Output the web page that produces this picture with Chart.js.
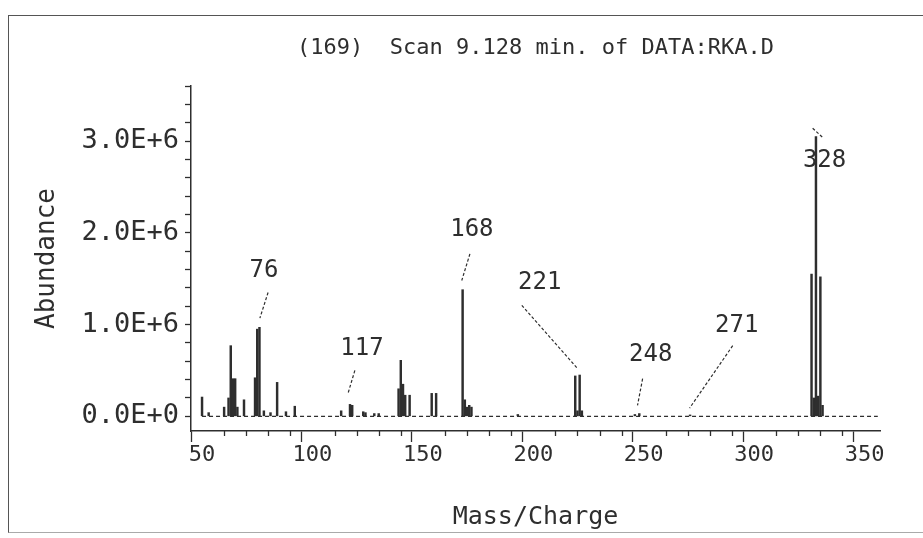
<!DOCTYPE html>
<html><head><meta charset="utf-8">
<script src="https://cdn.jsdelivr.net/npm/chart.js@4.4.0/dist/chart.umd.min.js"></script>
<style>
html,body{margin:0;padding:0;background:#fff;}
#wrap{position:relative;width:923px;height:538px;overflow:hidden;background:#fff;}
#frame{position:absolute;left:8px;top:15px;width:940px;height:516px;border-left:1.5px solid #555;border-top:1.5px solid #555;border-bottom:1px solid #aaa;}
canvas{position:absolute;left:0;top:0;}
</style></head><body>
<div id="wrap"><div id="frame"></div><canvas id="c" width="923" height="538"></canvas></div>
<script>
// ---- data ----
const massCharge = [50,53,60,62,63,64,65,66,69,74,75,76,78,81,84,88,92,113,117,118,123,124,128,130,139,140,141,142,144,154,156,168,169,170,171,172,193,219,220,221,222,246,248,271,326,327,328,329,330,331];
const abundance  = [210000,40000,100000,200000,770000,410000,410000,100000,180000,420000,950000,970000,60000,40000,370000,50000,110000,60000,130000,120000,50000,40000,30000,30000,300000,610000,350000,230000,230000,250000,250000,1380000,180000,100000,120000,100000,20000,440000,60000,450000,60000,20000,30000,15000,1550000,200000,3050000,220000,1520000,120000];
const baselineMz = [50, 356];
const baselineAb = [0, 0];
const xTickValues = [50,60,70,80,90,100,110,120,130,140,150,160,170,180,190,200,210,220,230,240,250,260,270,280,290,300,310,320,330,340,350];
const yTickValues = [0,200000,400000,600000,800000,1000000,1200000,1400000,1600000,1800000,2000000,2200000,2400000,2600000,2800000,3000000,3200000,3400000,3600000];
const yTickLabels = {0:'0.0E+0',1000000:'1.0E+6',2000000:'2.0E+6',3000000:'3.0E+6'};
// peak annotations (label text, label anchor and leader ends in data units)
const peakLabels   = ['76','117','168','221','248','271','328'];
const labelMz      = [78, 122.4, 172.2, 202.9, 253.2, 292.1, 331.9];
const labelAb      = [1590000, 740000, 2030000, 1460000, 670000, 990000, 2790000];
const leaderFromMz = [79.9, 119.2, 171.3, 194.8, 249.5, 290.3, 326.5];
const leaderFromAb = [1350000, 500000, 1770000, 1210000, 410000, 770000, 3140000];
const leaderToMz   = [76.2, 116.1, 167.6, 220.1, 247.2, 270.8, 331.0];
const leaderToAb   = [1070000, 250000, 1480000, 520000, 120000, 90000, 3040000];

const INK = '#2e2e2e';
const FONT = "'DejaVu Sans Mono', 'Liberation Mono', monospace";

const annotPlugin = {
  id: 'annot',
  afterDatasetsDraw(chart) {
    const {ctx, scales: {x, y}} = chart;
    ctx.save();
    // minor x ticks
    ctx.strokeStyle = INK; ctx.lineWidth = 1.3;
    x.ticks.forEach(t => {
      if (t.value % 50 !== 0) {
        const px = Math.round(x.getPixelForValue(t.value)) + 0.5;
        ctx.beginPath(); ctx.moveTo(px, x.top); ctx.lineTo(px, x.top + 5); ctx.stroke();
      }
    });
    // leaders
    ctx.setLineDash([3, 2]);
    ctx.lineWidth = 1.2;
    for (let i = 0; i < peakLabels.length; i++) {
      ctx.beginPath();
      ctx.moveTo(x.getPixelForValue(leaderFromMz[i]), y.getPixelForValue(leaderFromAb[i]));
      ctx.lineTo(x.getPixelForValue(leaderToMz[i]), y.getPixelForValue(leaderToAb[i]));
      ctx.stroke();
    }
    ctx.setLineDash([]);
    ctx.fillStyle = INK;
    ctx.font = "24px " + FONT;
    ctx.textAlign = 'center'; ctx.textBaseline = 'middle';
    for (let i = 0; i < peakLabels.length; i++) {
      ctx.fillText(peakLabels[i], x.getPixelForValue(labelMz[i]), y.getPixelForValue(labelAb[i]));
    }
    ctx.restore();
  }
};

new Chart(document.getElementById('c'), {
  data: {
    datasets: [
      {
        type: 'line',
        data: baselineMz.map((m, i) => ({x: m, y: baselineAb[i]})),
        borderColor: INK, borderWidth: 1.2, borderDash: [4, 3],
        pointRadius: 0, fill: false
      },
      {
        type: 'bar',
        data: massCharge.map((m, i) => ({x: m, y: abundance[i]})),
        backgroundColor: INK, borderWidth: 0,
        barThickness: 1.8, grouped: false
      }
    ]
  },
  options: {
    responsive: false, animation: false,
    layout: {padding: {left: 20, right: 43, top: 12.6, bottom: 0}},
    plugins: {
      legend: {display: false}, tooltip: {enabled: false},
      title: {
        display: true, text: '(169)  Scan 9.128 min. of DATA:RKA.D',
        fullSize: false, color: INK,
        font: {family: FONT, size: 22, weight: 'normal'},
        padding: {top: 22, bottom: 25}
      }
    },
    scales: {
      x: {
        type: 'linear', min: 45, max: 357, offset: false,
        afterBuildTicks: s => { s.ticks = xTickValues.map(v => ({value: v})); },
        afterFit: s => { s.height = 107; },
        ticks: {
          autoSkip: false, maxRotation: 0, color: INK, padding: 0,
          font: {family: FONT, size: 22},
          callback: v => (v % 50 === 0 ? String(v) : '')
        },
        grid: {
          drawOnChartArea: false, tickLength: 11, tickWidth: 1.3,
          tickColor: c => (c.tick && c.tick.value % 50 === 0 ? INK : 'rgba(0,0,0,0)')
        },
        border: {display: true, color: INK, width: 1.5},
        title: {display: true, text: 'Mass/Charge', color: INK,
          font: {family: FONT, size: 25}, padding: {top: 0, bottom: 6}}
      },
      y: {
        type: 'linear', min: -160000, max: 3600000,
        afterBuildTicks: s => { s.ticks = yTickValues.map(v => ({value: v})); },
        afterFit: s => { s.width = 171; },
        ticks: {
          autoSkip: false, color: INK, padding: 6,
          font: {family: FONT, size: 27},
          callback: v => (yTickLabels[v] !== undefined ? yTickLabels[v] : '')
        },
        grid: {drawOnChartArea: false, tickLength: 6, tickWidth: 1.3, tickColor: INK},
        border: {display: true, color: INK, width: 1.5},
        title: {display: true, text: 'Abundance', color: INK,
          font: {family: FONT, size: 26}, padding: {top: 12, bottom: 0}}
      }
    }
  },
  plugins: [annotPlugin]
});
</script>
</body></html>
